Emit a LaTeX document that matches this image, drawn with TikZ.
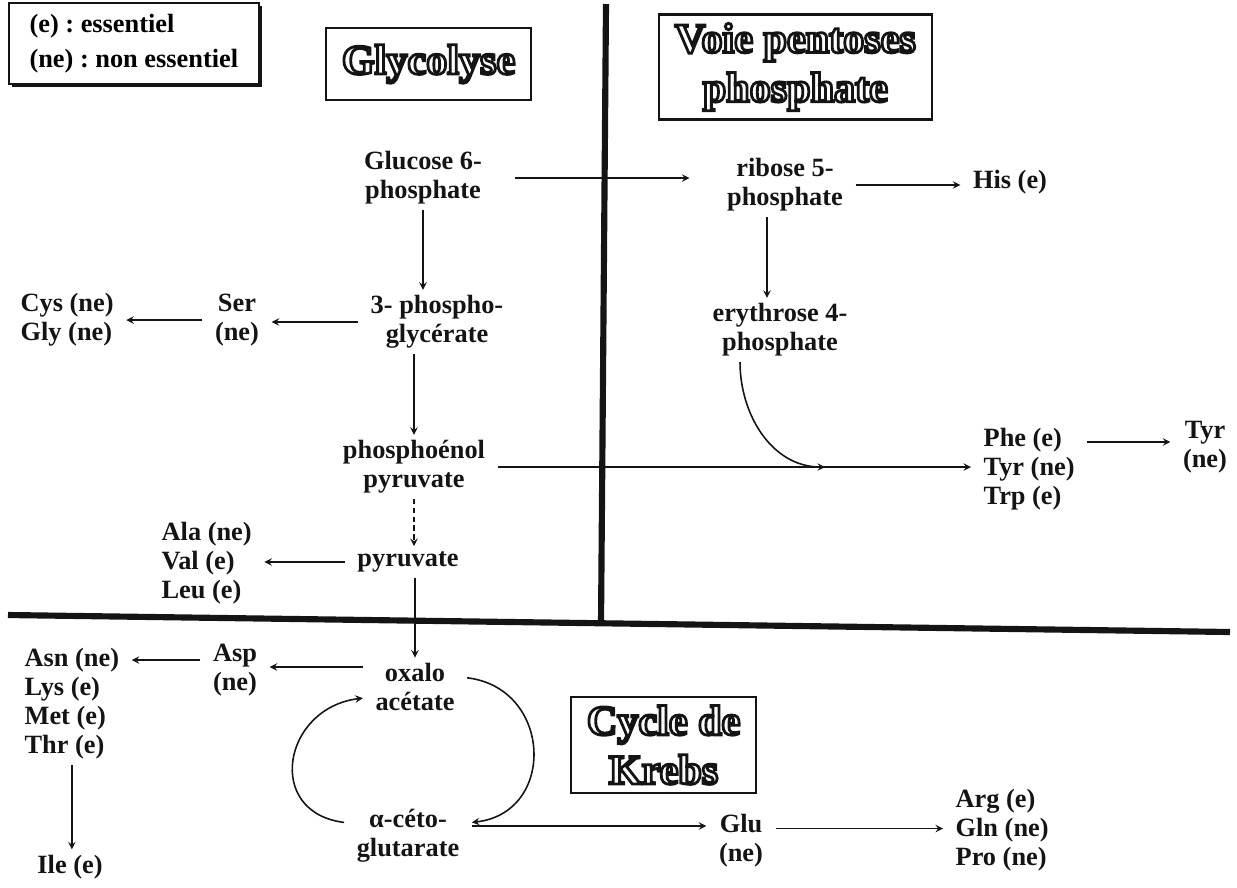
\documentclass[tikz,border=0pt]{standalone}
\usepackage{fontspec}
\setmainfont{Liberation Serif}
\usepackage{xcolor}
\usepackage{tikz}
\usetikzlibrary{arrows,shapes,positioning,shadows}
\frenchspacing
\definecolor{ink}{RGB}{20,20,20}
\tikzstyle{arrow} = [line width=0.9pt,->,>=stealth,color=ink]
\tikzstyle{metab} = [align=center, text=ink, font=\fontsize{15}{16.5}\selectfont\bfseries, inner xsep=7pt, inner ysep=3pt]
\tikzstyle{amino} = [metab, align=left]
\tikzstyle{pathway} = [rectangle, draw=ink, line width=1.2pt, align=center, font=\fontsize{24}{28}\selectfont\bfseries, inner xsep=9pt, inner ysep=5pt]
\tikzstyle{legendbox} = [rectangle, draw=ink, fill=white, line width=1pt, align=left, minimum width=5cm, minimum height=1.62cm, font=\fontsize{15}{20}\selectfont\bfseries, drop shadow={shadow xshift=1.8pt, shadow yshift=-1.8pt, opacity=1, fill=ink}]
\tikzstyle{border} = [line width=3.5pt, color=ink]
% outlined title letters: white fill, dark stroke
\newcommand{\hollow}[1]{\textcolor{white}{\special{pdf:literal direct 2 Tr 1.6 w 0.08 G}#1\special{pdf:literal direct 0 Tr}}}

\begin{document}
\begin{tikzpicture}[x=0.02cm, y=-0.02cm]
\useasboundingbox (0,0) rectangle (1237,887);

% separating lines
\draw[border] (606,4) -- (601,624);
\draw[border] (8,615) -- (1230,632);

% legend and pathway titles
\node (legend) [legendbox, anchor=north west] at (8,2) {(e) : essentiel\\(ne) : non essentiel};
\node (glyco) [pathway, anchor=west, minimum height=1.44cm] at (325,64) {\hollow{Glycolyse}};
\node (ppp) [pathway, anchor=west] at (658,67) {\hollow{Voie pentoses}\\\hollow{phosphate}};
\node (krebs) [pathway, anchor=west] at (570,745) {\hollow{Cycle de}\\\hollow{Krebs}};

% glycolyse
\node (g6p) [metab] at (423,178) {Glucose 6-\\phosphate};
\node (pga) [metab] at (437,322) {3- phospho-\\glycérate};
\node (pep) [metab] at (414,467) {phosphoénol\\pyruvate};
\node (pyr) [metab] at (408,562) {pyruvate};
\node (ser) [metab] at (237,320) {Ser\\(ne)};
\node (cys) [amino, anchor=west] at (8,320) {Cys (ne)\\Gly (ne)};
\node (ala) [amino, anchor=west] at (149,563) {Ala (ne)\\Val (e)\\Leu (e)};

\draw[arrow] (g6p.south) -- (g6p.south |- pga.north);
\draw[arrow] (pep.north |- pga.south) -- (pep.north);
\draw[arrow, densely dashed] (pep.south) -- (pep.south |- pyr.north);
\draw[arrow] (pga.west) -- (pga.west -| ser.east);
\draw[arrow] (ser.west) -- (ser.west -| cys.east);
\draw[arrow] (pyr.west) -- (pyr.west -| ala.east);

% pentoses phosphate
\node (r5p) [metab] at (785,185) {ribose 5-\\phosphate};
\node (e4p) [metab] at (780,330) {erythrose 4-\\phosphate};
\node (his) [metab] at (1010,182) {His (e)};
\node (aro) [amino, anchor=west] at (971,469) {Phe (e)\\Tyr (ne)\\Trp (e)};
\node (tyr) [metab] at (1205,447) {Tyr\\(ne)};
\coordinate (join) at (825,467);

\draw[arrow, shorten <=0.4cm, shorten >=0.5cm] (g6p.east) -- (g6p.east -| r5p.west);
\draw[arrow] (r5p.east) -- (r5p.east -| his.west);
\draw[arrow] ([xshift=-0.36cm]r5p.south) coordinate (r5s) -- (r5s |- e4p.north);
\draw[arrow] (pep.east) -- (pep.east -| aro.west);
\draw[arrow] ([xshift=-0.8cm]e4p.south) to[out=-90, in=180] (join);
\draw[arrow] ([yshift=0.54cm]aro.east) coordinate (phe) -- (phe -| tyr.west);

% cycle de Krebs
\node (oxa) [metab] at (415,687) {oxalo\\acétate};
\node (akg) [metab] at (408,836) {α-céto-\\glutarate};
\node (asp) [metab] at (235,670) {Asp\\(ne)};
\node (asn) [amino, anchor=west] at (12,704) {Asn (ne)\\Lys (e)\\Met (e)\\Thr (e)};
\node (ile) [metab] at (70,867) {Ile (e)};
\node (glu) [metab] at (741,841) {Glu\\(ne)};
\node (arg) [amino, anchor=west] at (943,830) {Arg (e)\\Gln (ne)\\Pro (ne)};

\draw[arrow] (pyr.south -| oxa.north) -- (oxa.north);
\draw[arrow] (oxa.10) .. controls +(85,10) and +(85,-10) .. (akg.12);
\draw[arrow] (akg.168) .. controls +(-80,-10) and +(-80,10) .. (oxa.192);
\draw[arrow] ([yshift=0.4cm]oxa.west) coordinate (oxw) -- (oxw -| asp.east);
\draw[arrow] ([yshift=0.2cm]asp.west) coordinate (aspw) -- (aspw -| asn.east);
\draw[arrow] (asn.south) -- (asn.south |- ile.north);
\draw[arrow] ([yshift=0.2cm]akg.east) coordinate (akge) -- (akge -| glu.west);
\draw[arrow] ([yshift=0.25cm]glu.east) coordinate (glue) -- (glue -| arg.west);
\end{tikzpicture}
\end{document}
